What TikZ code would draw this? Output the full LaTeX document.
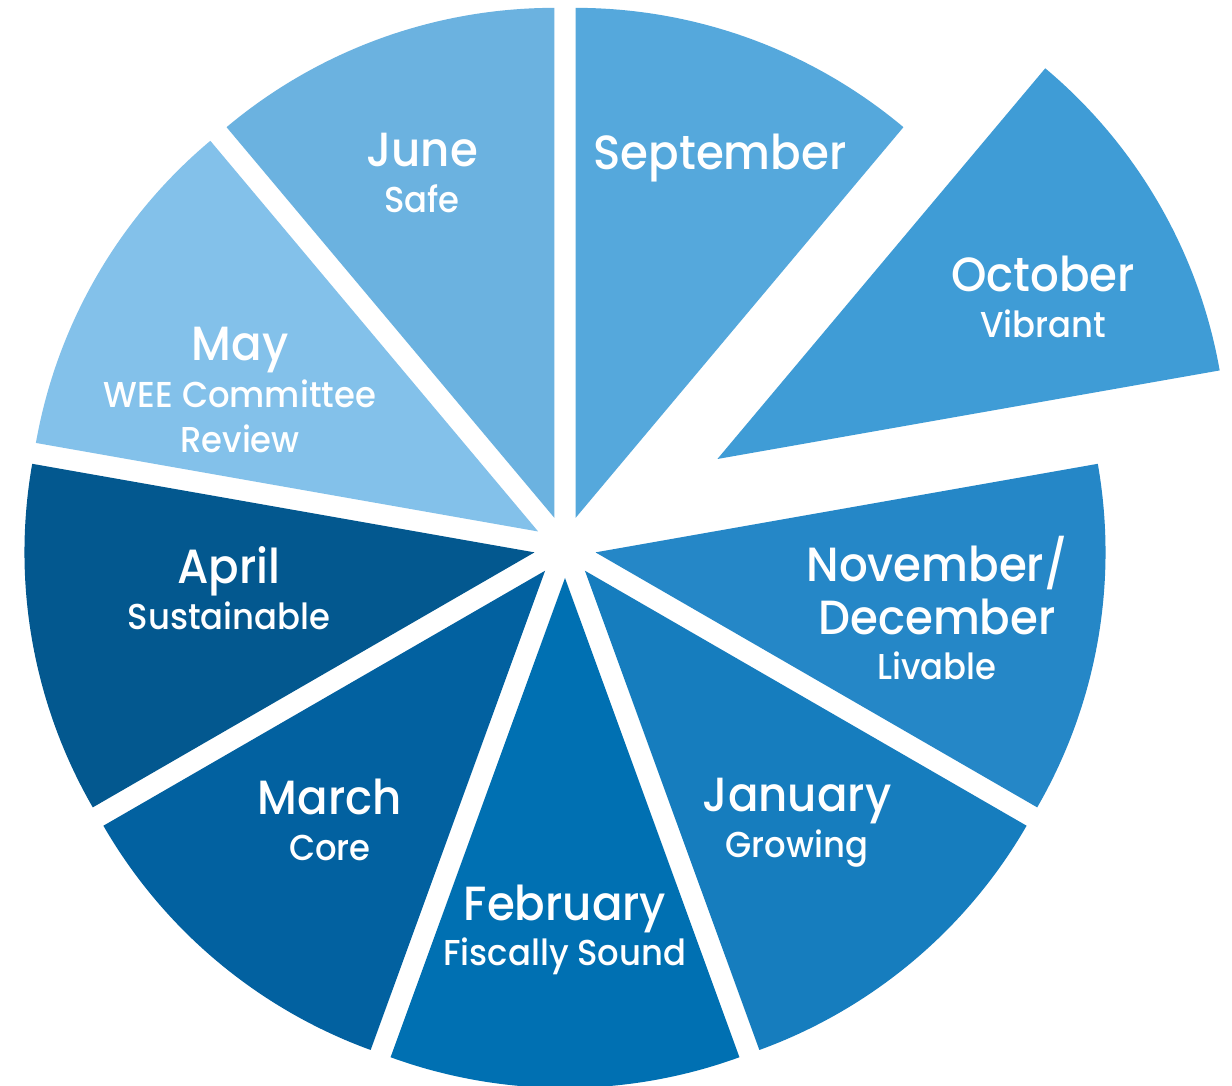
\documentclass[tikz,border=0pt]{standalone}
\usepackage{fontspec}
\setmainfont{Poppins Medium}[FakeStretch=0.94]
\usetikzlibrary{calc}

% slice colours, lightest to darkest
\definecolor{cSep}{HTML}{55A8DC}
\definecolor{cOct}{HTML}{3F9CD6}
\definecolor{cNov}{HTML}{2587C7}
\definecolor{cJan}{HTML}{167DBE}
\definecolor{cFeb}{HTML}{0070B2}
\definecolor{cMar}{HTML}{0261A0}
\definecolor{cApr}{HTML}{03588F}
\definecolor{cMay}{HTML}{83C1EA}
\definecolor{cJun}{HTML}{6BB2E0}

% #1 colour, #2 start angle (slice runs 40 degrees clockwise), #3 offset along the bisector
\newcommand\monthslice[3]{%
  \fill[#1] ($(C)+(#2-20:#3)$) -- ++(#2:510)
    arc[start angle=#2, end angle=#2-40, radius=510] -- cycle;}

\begin{document}
\begin{tikzpicture}[x=1pt,y=1pt,
  big/.style={text=white, anchor=base, font=\fontsize{48}{56}\selectfont, inner sep=0pt},
  small/.style={text=white, anchor=base, font=\fontsize{36}{42}\selectfont, inner sep=0pt}]
  \fill[white] (0,0) rectangle (1232,1086);
  \useasboundingbox (0,0) rectangle (1232,1086);
  \coordinate (C) at (565,539);

  \monthslice{cSep}{90}{31}
  \monthslice{cOct}{50}{176}
  \monthslice{cNov}{10}{31}
  \monthslice{cJan}{-30}{31}
  \monthslice{cFeb}{-70}{31}
  \monthslice{cMar}{-110}{31}
  \monthslice{cApr}{-150}{31}
  \monthslice{cMay}{170}{31}
  \monthslice{cJun}{130}{31}

  \node[big]   (jun)  at (422,919) {June};
  \node[small] (juns) at (422,873) {Safe};
  \node[big]   (sep)  at (720,916) {September};
  \node[big]   (oct)  at (1043,794) {October};
  \node[small] (octs) at (1043,748) {Vibrant};
  \node[big]   (nov)  at (937,504) {November/};
  \node[big]   (dec)  at (937,451) {December};
  \node[small] (decs) at (937,406) {Livable};
  \node[big]   (jan)  at (797,274) {January};
  \node[small] (jans) at (797,228) {Growing};
  \node[big]   (feb)  at (565,165) {February};
  \node[small] (febs) at (565,120) {Fiscally Sound};
  \node[big]   (mar)  at (330,271) {March};
  \node[small] (mars) at (330,225) {Core};
  \node[big]   (apr)  at (229,502) {April};
  \node[small] (aprs) at (229,456) {Sustainable};
  \node[big]   (may)  at (240,725) {May};
  \node[small] (mays) at (240,678) {WEE Committee};
  \node[small] (mayr) at (240,633) {Review};
\end{tikzpicture}
\end{document}
